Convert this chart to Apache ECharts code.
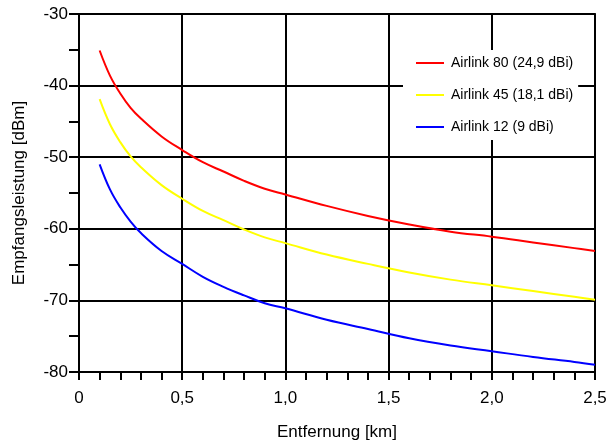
<!DOCTYPE html>
<html>
<head>
<meta charset="utf-8">
<script src="https://cdn.jsdelivr.net/npm/echarts@6/dist/echarts.min.js"></script>
<style>
  html, body { margin: 0; padding: 0; background: #fff; }
  #chart { width: 616px; height: 448px; }
</style>
</head>
<body>
<div id="chart"></div>
<script>
// distance in km
const distances = [0.1, 0.15, 0.2, 0.25, 0.3, 0.4, 0.5, 0.6, 0.7, 0.8, 0.9, 1.0, 1.2, 1.4, 1.6, 1.8, 2.0, 2.2, 2.4, 2.5];
// received power in dBm
const airlink80 = [-35.1, -38.6, -41.1, -43.1, -44.6, -47.1, -49.0, -50.7, -52.0, -53.3, -54.4, -55.2, -56.8, -58.2, -59.4, -60.4, -61.1, -61.9, -62.7, -63.1];
const airlink45 = [-41.9, -45.4, -47.9, -49.9, -51.4, -53.9, -55.8, -57.5, -58.8, -60.1, -61.2, -62.0, -63.6, -64.9, -66.1, -67.1, -67.9, -68.7, -69.5, -69.9];
const airlink12 = [-51.0, -54.5, -57.0, -59.0, -60.6, -63.1, -64.9, -66.7, -68.1, -69.3, -70.4, -71.1, -72.7, -74.0, -75.3, -76.3, -77.1, -77.9, -78.6, -79.0];
const seriesNames = ['Airlink 80 (24,9 dBi)', 'Airlink 45 (18,1 dBi)', 'Airlink 12 (9 dBi)'];
const seriesColors = ['#ff0000', '#ffff00', '#0000ff'];

const font = 'Liberation Sans, Arial, sans-serif';
const pairs = ys => distances.map((d, i) => [d, ys[i]]);

const chart = echarts.init(document.getElementById('chart'), null, { renderer: 'canvas' });

chart.setOption({
    animation: false,
    backgroundColor: '#fff',
    grid: {
        left: 79,
        right: 21,
        top: 14,
        bottom: 76,
        show: true,
        borderColor: '#222',
        borderWidth: 2,
        backgroundColor: 'transparent'
    },
    legend: {
        left: 403,
        top: 50,
        orient: 'vertical',
        backgroundColor: '#fff',
        padding: [6, 5, 6, 13],
        icon: 'rect',
        itemWidth: 28,
        itemHeight: 2,
        itemGap: 18,
        textStyle: { fontFamily: font, fontSize: 14, lineHeight: 14, color: '#000', padding: [0, 0, 0, 2] },
        data: seriesNames
    },
    xAxis: {
        type: 'value',
        min: 0,
        max: 2.5,
        interval: 0.5,
        name: 'Entfernung [km]',
        nameLocation: 'middle',
        nameGap: 52,
        nameTextStyle: { fontFamily: font, fontSize: 17, color: '#000' },
        axisLine: { show: true, lineStyle: { color: '#000', width: 2 } },
        axisTick: { show: true, length: 8, lineStyle: { color: '#000', width: 2 } },
        minorTick: { show: true, splitNumber: 5, length: 8, lineStyle: { color: '#000', width: 2 } },
        axisLabel: {
            margin: 18,
            fontFamily: font,
            fontSize: 17,
            color: '#000',
            formatter: v => v === 0 ? '0' : v.toFixed(1).replace('.', ',')
        },
        splitLine: { show: true, lineStyle: { color: '#000', width: 2 } }
    },
    yAxis: {
        type: 'value',
        min: -80,
        max: -30,
        interval: 10,
        name: 'Empfangsleistung [dBm]',
        nameLocation: 'middle',
        nameGap: 51,
        nameTextStyle: { fontFamily: font, fontSize: 17, color: '#000' },
        axisLine: { show: true, lineStyle: { color: '#000', width: 2 } },
        axisTick: { show: true, length: 10, lineStyle: { color: '#000', width: 2 } },
        minorTick: { show: true, splitNumber: 2, length: 10, lineStyle: { color: '#000', width: 2 } },
        axisLabel: { margin: 11, fontFamily: font, fontSize: 17, color: '#000' },
        splitLine: { show: true, lineStyle: { color: '#000', width: 2 } }
    },
    series: [airlink80, airlink45, airlink12].map((ys, i) => ({
        name: seriesNames[i],
        type: 'line',
        data: pairs(ys),
        symbol: 'none',
        smooth: 0.4,
        lineStyle: { color: seriesColors[i], width: 2 },
        itemStyle: { color: seriesColors[i] }
    }))
});
</script>
</body>
</html>
